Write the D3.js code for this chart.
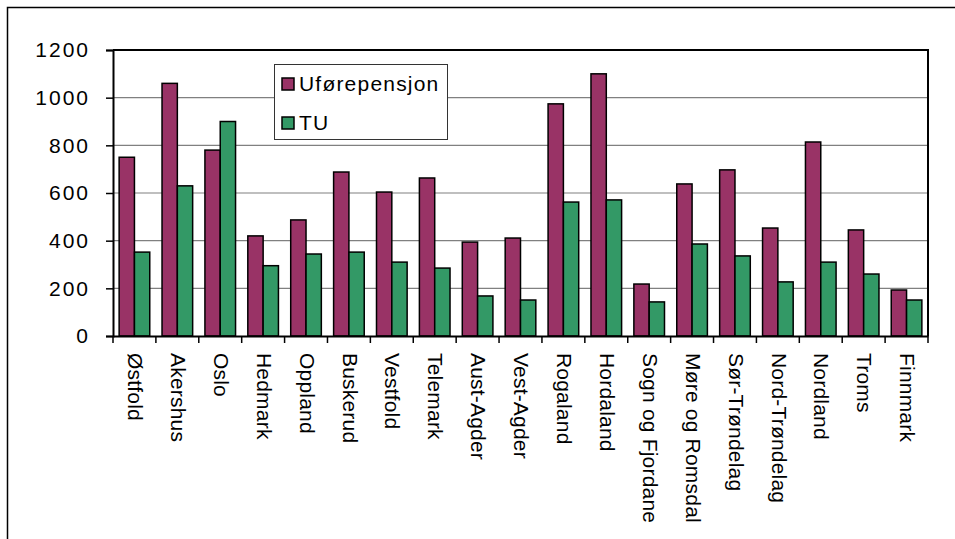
<!DOCTYPE html>
<html>
<head>
<meta charset="utf-8">
<script src="https://cdn.jsdelivr.net/npm/d3@7"></script>
<style>
  body { margin: 0; background: #fff; }
  text { font-family: "Liberation Sans", Arial, sans-serif; fill: #000; }
</style>
</head>
<body>
<div id="chart"></div>
<script>
var fylker = ["Østfold", "Akershus", "Oslo", "Hedmark", "Oppland", "Buskerud", "Vestfold", "Telemark",
  "Aust-Agder", "Vest-Agder", "Rogaland", "Hordaland", "Sogn og Fjordane", "Møre og Romsdal",
  "Sør-Trøndelag", "Nord-Trøndelag", "Nordland", "Troms", "Finnmark"];
var uforepensjon = [750, 1060, 780, 420, 487, 688, 604, 663, 394, 411, 974, 1100, 218, 638, 697, 453, 814, 445, 193];
var tu = [352, 630, 900, 295, 344, 352, 310, 285, 168, 151, 562, 571, 143, 386, 336, 227, 310, 260, 151];
var seriesNames = ["Uførepensjon", "TU"];
var yTicks = [0, 200, 400, 600, 800, 1000, 1200];
var colors = ["#993366", "#339966"];

var width = 955, height = 539;
var pLeft = 113, pRight = 928, pTop = 50, pBottom = 336;

var svg = d3.select("#chart").append("svg")
  .attr("width", width)
  .attr("height", height);

// outer frame (cut off at right and bottom like the original)
svg.append("rect")
  .attr("x", 7.5).attr("y", 7.5)
  .attr("width", 960).attr("height", 560)
  .attr("fill", "none").attr("stroke", "#000").attr("stroke-width", 1.5);

var x0 = d3.scaleBand().domain(fylker).range([pLeft, pRight]);
var x1 = d3.scaleBand().domain(seriesNames)
  .range([x0.bandwidth() * 0.143, x0.bandwidth() * 0.857]);
var y = d3.scaleLinear().domain([0, 1200]).range([pBottom, pTop]);

// grid
svg.append("g").selectAll("line")
  .data(yTicks.filter(function(d){ return d > 0 && d < 1200; }))
  .enter().append("line")
  .attr("x1", pLeft).attr("x2", pRight)
  .attr("y1", function(d){ return y(d); }).attr("y2", function(d){ return y(d); })
  .attr("stroke", "#808080").attr("stroke-width", 1.2);

// plot border top + right
svg.append("path")
  .attr("d", "M" + pLeft + "," + pTop + "H" + pRight + "V" + pBottom)
  .attr("fill", "none").attr("stroke", "#000").attr("stroke-width", 2);

// bars
var rows = fylker.map(function(f, i){ return {name: f, vals: [uforepensjon[i], tu[i]]}; });
var groups = svg.append("g").selectAll("g")
  .data(rows).enter().append("g")
  .attr("transform", function(d){ return "translate(" + x0(d.name) + ",0)"; });
groups.selectAll("rect")
  .data(function(d){ return d.vals.map(function(v, j){ return {s: seriesNames[j], v: v, c: colors[j]}; }); })
  .enter().append("rect")
  .attr("x", function(d){ return x1(d.s); })
  .attr("width", x1.bandwidth())
  .attr("y", function(d){ return y(d.v); })
  .attr("height", function(d){ return pBottom - y(d.v); })
  .attr("fill", function(d){ return d.c; })
  .attr("stroke", "#000").attr("stroke-width", 1.5);

// y axis
var yAxis = svg.append("g")
  .attr("transform", "translate(" + pLeft + ",0)")
  .call(d3.axisLeft(y).tickValues(yTicks).tickFormat(d3.format("d")).tickSize(7).tickPadding(16));
yAxis.select(".domain").attr("stroke-width", 2);
yAxis.selectAll(".tick line").attr("stroke-width", 1.5);
yAxis.selectAll("text")
  .attr("font-family", null).attr("font-size", null)
  .style("font-size", "21px").style("letter-spacing", "2px");

// x axis
var xAxis = svg.append("g")
  .attr("transform", "translate(0," + pBottom + ")")
  .call(d3.axisBottom(x0).tickSize(0).tickFormat(""));
xAxis.select(".domain").attr("stroke-width", 2);
xAxis.selectAll(".tick").remove();
xAxis.selectAll("line.sep")
  .data(fylker.concat([null])).enter().append("line")
  .attr("class", "sep")
  .attr("x1", function(d, i){ return pLeft + i * x0.step(); })
  .attr("x2", function(d, i){ return pLeft + i * x0.step(); })
  .attr("y1", 0).attr("y2", 7)
  .attr("stroke", "#000").attr("stroke-width", 1.5);

svg.append("g").selectAll("text")
  .data(fylker).enter().append("text")
  .attr("transform", function(d){
    return "translate(" + (x0(d) + x0.bandwidth() / 2 + 1) + "," + 353 + ") rotate(90)";
  })
  .attr("dy", "0.35em")
  .style("font-size", "21px").style("letter-spacing", "0.2px")
  .text(function(d){ return d; });

// legend
var legend = svg.append("g").attr("transform", "translate(274,64)");
legend.append("rect")
  .attr("x", 0.5).attr("y", 0.5).attr("width", 173).attr("height", 75)
  .attr("fill", "#fff").attr("stroke", "#333").attr("stroke-width", 1);
seriesNames.forEach(function(s, i){
  legend.append("rect")
    .attr("x", 8).attr("y", 14 + i * 39).attr("width", 12).attr("height", 12)
    .attr("fill", colors[i]).attr("stroke", "#000").attr("stroke-width", 1.5);
  legend.append("text")
    .attr("x", 25).attr("y", 20 + i * 39).attr("dy", "0.35em")
    .style("font-size", "21px").style("letter-spacing", "1.2px")
    .text(s);
});
</script>
</body>
</html>
